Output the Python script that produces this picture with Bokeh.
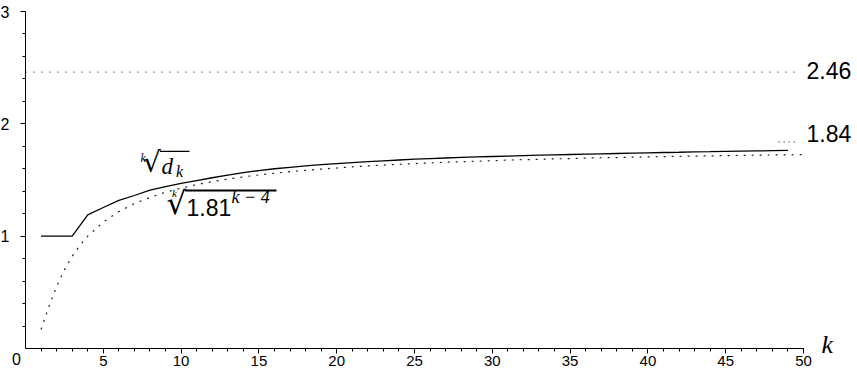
from bokeh.plotting import figure
from bokeh.models import Label, BoxAnnotation, Range1d, FixedTicker
from bokeh.embed import file_html
from bokeh.resources import INLINE

# ---- data ----
k_vals = list(range(1, 50))
root_dk = [1.000, 1.000, 1.000, 1.190, 1.255, 1.318, 1.362, 1.410, 1.442, 1.470,
           1.495, 1.520, 1.543, 1.565, 1.584, 1.600, 1.613, 1.625, 1.636, 1.646,
           1.655, 1.664, 1.671, 1.678, 1.685, 1.691, 1.696, 1.701, 1.705, 1.709,
           1.713, 1.717, 1.721, 1.724, 1.727, 1.730, 1.733, 1.736, 1.739, 1.742,
           1.745, 1.747, 1.750, 1.752, 1.755, 1.757, 1.759, 1.761, 1.763]

k_bound = [1, 1.5, 2, 2.5, 3, 3.5, 4, 5, 6, 7, 8, 9, 10, 11, 12, 13, 14, 15, 16, 17,
           18, 19, 20, 21, 22, 23, 24, 25, 26, 27, 28, 29, 30, 31, 32, 33, 34, 35,
           36, 37, 38, 39, 40, 41, 42, 43, 44, 45, 46, 47, 48, 49, 50]
root_bound = [0.169, 0.372, 0.553, 0.700, 0.821, 0.919, 1.000, 1.126, 1.219, 1.290,
              1.345, 1.391, 1.428, 1.459, 1.485, 1.508, 1.528, 1.545, 1.560, 1.574,
              1.586, 1.597, 1.607, 1.617, 1.625, 1.633, 1.640, 1.646, 1.652, 1.658,
              1.663, 1.668, 1.672, 1.677, 1.681, 1.684, 1.688, 1.691, 1.695, 1.698,
              1.700, 1.703, 1.706, 1.708, 1.711, 1.713, 1.715, 1.717, 1.719, 1.721,
              1.723, 1.724, 1.726]

asym_values = [2.46, 1.84]
asym_labels = ["2.46", "1.84"]
asym_start = [0, 48.4]
asym_end = [49.6, 49.6]
asym_dash = ["1 7", "1 4"]

x_major = [5, 10, 15, 20, 25, 30, 35, 40, 45, 50]
y_major = [1, 2, 3]

# ---- layout: the frame covers the whole canvas; axes sit at x=0 / y=0 ----
W, H = 857, 376
PX_X0, PX_X50 = 25, 803      # pixel columns of k=0 and k=50
PX_Y0, PX_Y3 = 348, 11       # pixel rows of 0 and 3
ux = (PX_X50 - PX_X0) / 50.0
uy = (PX_Y0 - PX_Y3) / 3.0
x_range = Range1d(-PX_X0 / ux, (W - PX_X0) / ux)
y_range = Range1d(-(H - PX_Y0) / uy, PX_Y0 / uy)

p = figure(width=W, height=H, x_range=x_range, y_range=y_range, title=None,
           output_backend="svg", toolbar_location=None, min_border=0)
p.outline_line_color = None
p.grid.visible = False
p.background_fill_color = "white"
p.border_fill_color = "white"

for ax in (p.xaxis[0], p.yaxis[0]):
    ax.fixed_location = 0
    ax.axis_line_color = "black"
    ax.major_tick_line_color = "black"
    ax.minor_tick_line_color = "black"
    ax.major_tick_in = 0
    ax.minor_tick_in = 0
    ax.major_tick_out = 5
    ax.minor_tick_out = 3
    ax.major_label_text_font = "Liberation Sans"
    ax.major_label_text_color = "black"

p.xaxis.major_label_text_font_size = "15px"
p.yaxis.major_label_text_font_size = "16px"
p.xaxis.bounds = (0, 50)
p.yaxis.bounds = (0, 3)
p.xaxis.ticker = FixedTicker(ticks=x_major, minor_ticks=list(range(1, 51)))
p.yaxis.ticker = FixedTicker(ticks=y_major, minor_ticks=[round(0.2 * i, 1) for i in range(1, 16)])
p.xaxis.major_label_standoff = 2
p.yaxis.major_label_standoff = 11

# asymptote lines
for v, s, e, d in zip(asym_values, asym_start, asym_end, asym_dash):
    p.line([s, e], [v, v], line_color="#333333", line_width=1.2, line_dash=d)

# curves
p.line(k_bound, root_bound, line_color="#222222", line_width=1.2, line_dash="2 6")
p.line(k_vals, root_dk, line_color="black", line_width=1.3)


def lab(x, y, text, size, font="Liberation Serif", style="italic", xo=0, yo=0, align="left"):
    p.add_layout(Label(x=x, y=y, text=text, x_offset=xo, y_offset=yo, text_align=align,
                       text_baseline="middle", text_font=font, text_font_style=style,
                       text_font_size=size, text_color="black"))


# right-side value labels
for v, t, yo in zip(asym_values, asym_labels, [1.7, 8.8]):
    lab(50, v, t, "23px", font="Liberation Sans", style="normal", xo=3, yo=yo)

# axis corner label and axis name
lab(0, 0, "0", "16px", font="Liberation Sans", style="normal", xo=-9, yo=-10, align="center")
lab(50, 0, "k", "26px", xo=18, yo=4)

# curve label 1: k-th root of d_k
lab(7.391, 1.6985, "k", "12px")
lab(7.558, 1.6558, "√", "28px", font="DejaVu Sans", style="normal")
p.add_layout(BoxAnnotation(left=8.644, right=10.540, top=1.7608, bottom=1.7484,
                           fill_color="black", fill_alpha=1, line_alpha=0))
lab(8.740, 1.6202, "d", "23px")
lab(9.672, 1.5757, "k", "16px")

# curve label 2: k-th root of 1.81^(k-4)
lab(9.415, 1.3869, "k", "11px")
lab(9.062, 1.2997, "√", "31px", font="DejaVu Sans", style="normal")
p.add_layout(BoxAnnotation(left=10.251, right=16.131, top=1.4154, bottom=1.3976,
                           fill_color="black", fill_alpha=1, line_alpha=0))
lab(10.347, 1.2579, "1.81", "23px", font="Liberation Sans", style="normal")
lab(13.239, 1.3469, "k − 4", "18px")

open("out.html", "w").write(file_html(p, INLINE))
